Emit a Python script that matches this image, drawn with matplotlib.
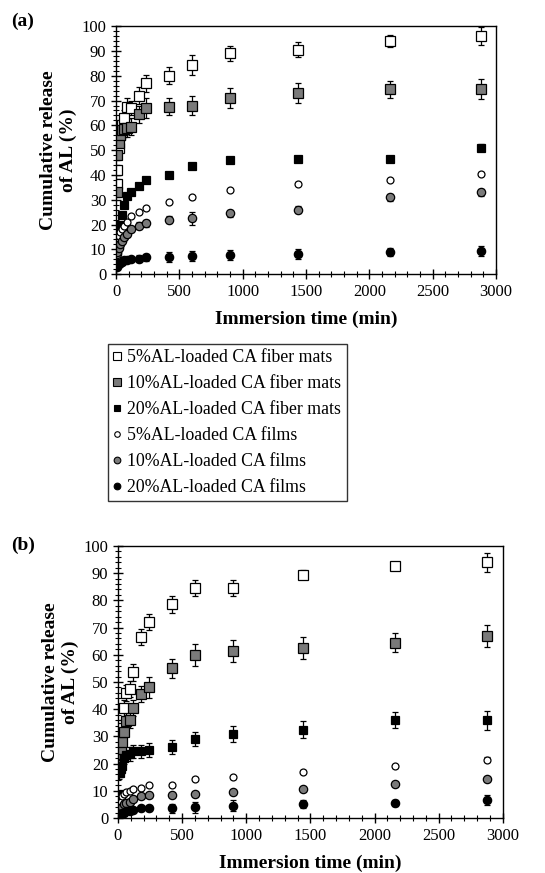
import numpy as np
import matplotlib.pyplot as plt
from matplotlib.ticker import MultipleLocator

plt.rcParams['font.family'] = ['Liberation Serif', 'DejaVu Serif']

# sampling times (min)
times = [5, 10, 20, 30, 45, 60, 90, 120, 180, 240, 420, 600, 900, 1440, 2160, 2880]

labels = ["5%AL-loaded CA fiber mats", "10%AL-loaded CA fiber mats",
          "20%AL-loaded CA fiber mats", "5%AL-loaded CA films",
          "10%AL-loaded CA films", "20%AL-loaded CA films"]

# panel (a)
a_fib5 = [36.5, 42, 51, 56, 60, 63, 67.5, 67, 72, 77, 80, 84.5, 89, 90.5, 94, 96]
a_fib5_err = [2, 2, 2, 3, 3, 3, 3.5, 3, 3.5, 3.5, 3.5, 4, 3, 3, 2.5, 3.5]
a_fib10 = [33, 48, 53, 56, 58, 58.5, 59, 59.5, 64.5, 67, 67.5, 68, 71, 73, 74.5, 74.5]
a_fib10_err = [2, 2, 2, 3, 3, 3, 3.5, 3.5, 3.5, 4, 3.5, 4, 4, 4, 3.5, 4]
a_fib20 = [10, 14, 17, 20, 24, 28, 31.5, 33, 35.5, 38, 40, 43.5, 46, 46.5, 46.5, 51]
a_fib20_err = [1, 1, 1, 1, 1, 1, 1, 1, 1, 1, 1, 1, 1, 1.2, 1, 1.5]
a_film5 = [9, 13, 15.5, 17, 18, 19.5, 21, 23.5, 25, 26.5, 29, 31, 34, 36.5, 38, 40.5]
a_film5_err = [0.5] * 16
a_film10 = [8, 9, 10.5, 12, 13.5, 15, 16, 18, 19.5, 20.5, 22, 22.5, 24.5, 26, 31, 33]
a_film10_err = [0.8, 0.8, 0.8, 0.8, 0.8, 1, 1, 1, 1.5, 1.5, 1.5, 2.5, 1.5, 1.5, 1.5, 1.5]
a_film20 = [3, 3.5, 4, 4.5, 5, 5.5, 5.8, 6, 6.2, 6.8, 7, 7.2, 7.8, 8.2, 9, 9.5]
a_film20_err = [0.5, 0.5, 0.5, 0.5, 0.5, 0.5, 0.8, 0.8, 1.5, 1.5, 2, 2, 2, 2, 1.5, 2]

# panel (b)
b_fib5 = [18, 25, 29, 33, 40.5, 46, 47.5, 53.5, 66.5, 72, 78.5, 84.5, 84.5, 89.5, 92.5, 94]
b_fib5_err = [2, 2.5, 2.5, 3, 3, 3, 3, 3, 3, 3, 3, 3, 3, 1.5, 1.2, 3.5]
b_fib10 = [17, 23.5, 25.5, 28, 31.5, 35.5, 36, 40.5, 45.5, 48, 55, 60, 61.5, 62.5, 64.5, 67]
b_fib10_err = [2, 2, 2, 3, 3, 3, 3, 3, 3, 4, 3.5, 4, 4, 4, 3.5, 4]
b_fib20 = [9, 16.5, 18, 19, 22, 23, 23.5, 24.5, 24.5, 25, 26, 29, 31, 32.5, 36, 36]
b_fib20_err = [1, 2, 2, 2, 2, 2, 2.5, 2.5, 2.5, 2.5, 2.5, 2.5, 3, 3, 3, 3.5]
b_film5 = [2, 4, 6, 8, 9, 9.5, 10, 10.5, 11, 12, 12, 14.5, 15, 17, 19, 21.5]
b_film5_err = [0.5] * 15 + [1]
b_film10 = [1, 2, 3, 4, 5, 5.5, 6, 7, 8, 8.5, 8.5, 9, 9.5, 10.5, 12.5, 14.5]
b_film10_err = [0.5] * 16
b_film20 = [0.5, 1, 1.5, 1.8, 2, 2.5, 2.5, 3, 3.5, 3.5, 3.5, 4, 4.5, 5, 5.5, 6.5]
b_film20_err = [0.5, 0.5, 0.5, 0.5, 0.5, 0.5, 0.5, 0.5, 1, 1, 1.5, 2, 2, 1.5, 1.2, 1.8]

styles = [("s", "white", 6.5), ("s", "#7a7a7a", 6.5), ("s", "black", 5.5),
          ("o", "white", 5), ("o", "#7a7a7a", 6), ("o", "black", 6)]


def draw(ax, series, errs):
    for y, e, (m, fc, ms), lab in zip(series, errs, styles, labels):
        ax.errorbar(times, y, yerr=e, fmt=m, mfc=fc, mec="black", mew=0.9,
                    ms=ms, ecolor="black", elinewidth=0.9, capsize=2.5,
                    capthick=0.9, label=lab)
    ax.set_xlim(0, 3000)
    ax.set_ylim(0, 100)
    ax.xaxis.set_major_locator(MultipleLocator(500))
    ax.xaxis.set_minor_locator(MultipleLocator(100))
    ax.yaxis.set_major_locator(MultipleLocator(10))
    ax.yaxis.set_minor_locator(MultipleLocator(2))
    ax.tick_params(which="major", direction="inout", length=7, width=1,
                   labelsize=12)
    ax.tick_params(which="minor", direction="inout", length=4, width=0.8)
    for s in ax.spines.values():
        s.set_linewidth(1.0)
    ax.set_xlabel("Immersion time (min)", fontsize=14, fontweight="bold",
                  labelpad=8)
    ax.set_ylabel("Cumulative release\nof AL (%)", fontsize=14,
                  fontweight="bold", labelpad=3)


fig = plt.figure(figsize=(5.45, 8.73), dpi=100)
ax1 = fig.add_axes([0.213, 0.686, 0.697, 0.284])
ax2 = fig.add_axes([0.2165, 0.063, 0.706, 0.3116])

draw(ax1, [a_fib5, a_fib10, a_fib20, a_film5, a_film10, a_film20],
     [a_fib5_err, a_fib10_err, a_fib20_err, a_film5_err, a_film10_err, a_film20_err])
draw(ax2, [b_fib5, b_fib10, b_fib20, b_film5, b_film10, b_film20],
     [b_fib5_err, b_fib10_err, b_fib20_err, b_film5_err, b_film10_err, b_film20_err])

fig.text(0.02, 0.975, "(a)", fontsize=14, fontweight="bold", va="center")
fig.text(0.02, 0.375, "(b)", fontsize=14, fontweight="bold", va="center")

handles = [plt.Line2D([], [], ls="none", marker=m, mfc=fc, mec="black",
                      ms=ms * 0.8, mew=0.8) for m, fc, ms in styles]
leg = fig.legend(handles, labels, loc="upper left",
                 bbox_to_anchor=(0.198, 0.606), fontsize=12.8, frameon=True,
                 fancybox=False, edgecolor="black", handlelength=0.4,
                 handletextpad=0.4, labelspacing=0.5, borderpad=0.3,
                 borderaxespad=0)
leg.get_frame().set_linewidth(1.0)

fig.savefig("out.png", dpi=100)
